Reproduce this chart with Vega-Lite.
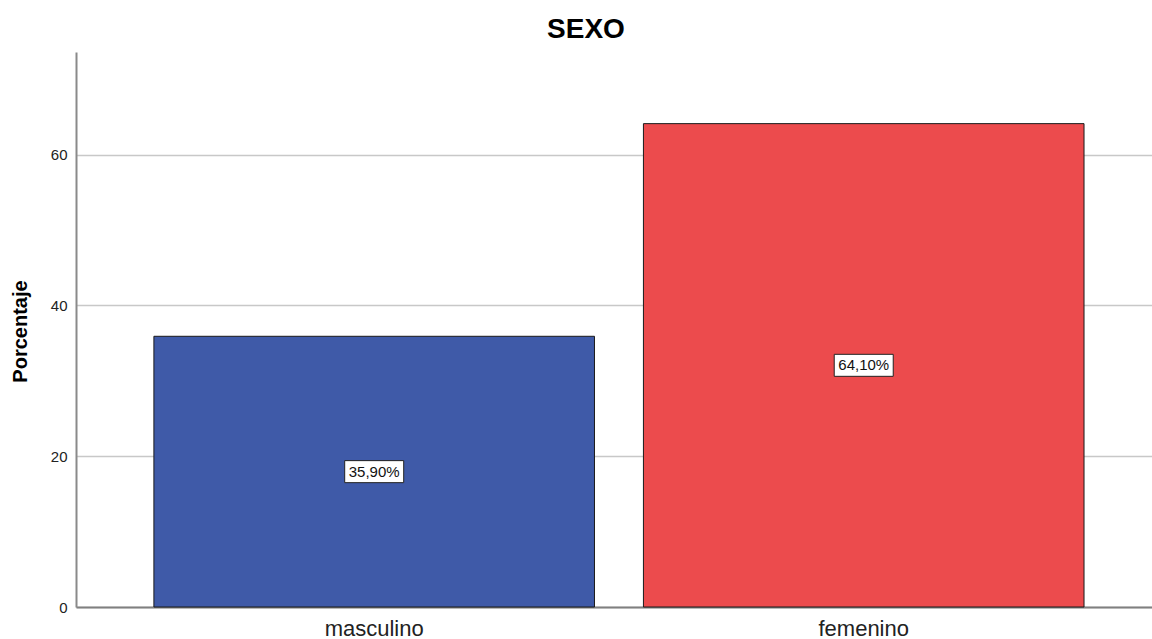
{
  "$schema": "https://vega.github.io/schema/vega-lite/v6.json",
  "width": 1076,
  "height": 555,
  "autosize": {"type": "none"},
  "padding": {"left": 76, "top": 52, "right": 0, "bottom": 32},
  "background": "white",
  "config": {"view": {"stroke": null}, "font": "Liberation Sans"},
  "title": {
    "text": "SEXO",
    "fontSize": 28,
    "fontWeight": "bold",
    "font": "Liberation Sans",
    "color": "#000000",
    "anchor": "middle",
    "dx": -28,
    "dy": 27,
    "baseline": "alphabetic",
    "offset": 12.7
  },
  "data": {
    "values": [
      {"sexo": "masculino", "porcentaje": 35.9, "label": "35,90%"},
      {"sexo": "femenino", "porcentaje": 64.1, "label": "64,10%"}
    ]
  },
  "encoding": {
    "x": {
      "field": "sexo",
      "type": "nominal",
      "sort": ["masculino", "femenino"],
      "scale": {"paddingInner": 0.1, "paddingOuter": 0.149, "align": 0.534},
      "axis": {
        "title": null,
        "labelAngle": 0,
        "labelFontSize": 22,
        "labelColor": "#222222",
        "ticks": false,
        "tickSize": 0,
        "labelPadding": 28,
        "labelBaseline": "alphabetic",
        "domainColor": "#808080",
        "domainWidth": 2,
        "grid": false
      }
    }
  },
  "layer": [
    {
      "mark": {"type": "bar", "stroke": "#1a1a1a", "strokeWidth": 1},
      "encoding": {
        "y": {
          "field": "porcentaje",
          "type": "quantitative",
          "scale": {"domain": [0, 73.6], "nice": false},
          "axis": {
            "title": "Porcentaje",
            "titleFontSize": 20,
            "titleFontWeight": "bold",
            "titleColor": "#000000",
            "titleX": -50,
            "titleY": 279,
            "titleBaseline": "alphabetic",
            "titleAngle": -90,
            "titleAlign": "center",
            "labelFontSize": 15,
            "labelColor": "#222222",
            "ticks": false,
            "tickSize": 0,
            "labelPadding": 9,
            "values": [0, 20, 40, 60],
            "grid": true,
            "gridColor": "#c8c8c8",
            "gridWidth": 1.5,
            "domainColor": "#8a8a8a",
            "domainWidth": 2
          }
        },
        "color": {
          "field": "sexo",
          "type": "nominal",
          "scale": {"domain": ["masculino", "femenino"], "range": ["#3f5aa8", "#ec4b4d"]},
          "legend": null
        }
      }
    },
    {
      "mark": {
        "type": "point",
        "shape": "M-1,-0.373L1,-0.373L1,0.373L-1,0.373Z",
        "size": 3481,
        "filled": true,
        "fill": "white",
        "stroke": "#222222",
        "strokeWidth": 1,
        "opacity": 1
      },
      "encoding": {
        "y": {
          "field": "porcentaje",
          "type": "quantitative",
          "scale": {"domain": [0, 147.2], "nice": false},
          "axis": null
        }
      }
    },
    {
      "mark": {"type": "text", "fontSize": 15, "color": "#111111", "baseline": "middle"},
      "encoding": {
        "y": {
          "field": "porcentaje",
          "type": "quantitative",
          "scale": {"domain": [0, 147.2], "nice": false},
          "axis": null
        },
        "text": {"field": "label"}
      }
    }
  ],
  "resolve": {"scale": {"y": "independent"}}
}
